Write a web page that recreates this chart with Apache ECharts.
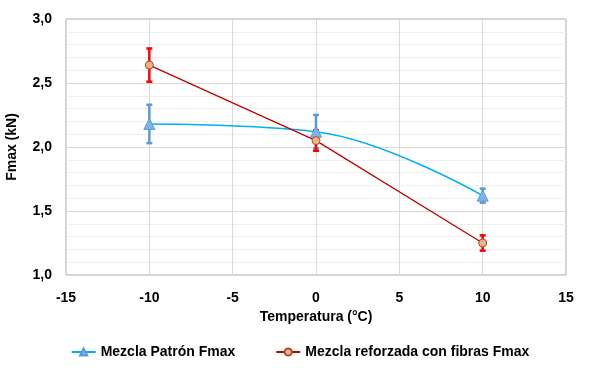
<!DOCTYPE html>
<html>
<head>
<meta charset="utf-8">
<script src="https://cdn.jsdelivr.net/npm/echarts@6/dist/echarts.min.js"></script>
<style>html,body{margin:0;padding:0;background:#fff}#c{width:600px;height:368px}</style>
</head>
<body>
<div id="c"></div>
<script>
var temps = [-10, 0, 10];
var patronValues = [2.18, 2.12, 1.62];
var patronErrors = [0.15, 0.13, 0.055];
var fibrasValues = [2.64, 2.05, 1.25];
var fibrasErrors = [0.13, 0.08, 0.06];
var seriesNames = ['Mezcla Patrón Fmax', 'Mezcla reforzada con fibras Fmax'];

var FONT = '"Liberation Sans", Arial, sans-serif';
var FS = 14;

function errData(vals, errs) {
  return temps.map(function (t, i) { return [t, vals[i] - errs[i], vals[i] + errs[i]]; });
}
function errSeries(vals, errs, color) {
  return {
    type: 'custom',
    z: 1,
    silent: true,
    data: errData(vals, errs),
    renderItem: function (params, api) {
      var x = api.value(0);
      var lo = api.coord([x, api.value(1)]);
      var hi = api.coord([x, api.value(2)]);
      var w = 3;
      var st = { stroke: color, lineWidth: 2.5 };
      return {
        type: 'group',
        children: [
          { type: 'line', shape: { x1: lo[0], y1: lo[1], x2: hi[0], y2: hi[1] }, style: st },
          { type: 'line', shape: { x1: lo[0] - w, y1: lo[1], x2: lo[0] + w, y2: lo[1] }, style: st },
          { type: 'line', shape: { x1: hi[0] - w, y1: hi[1], x2: hi[0] + w, y2: hi[1] }, style: st }
        ]
      };
    }
  };
}

var chart = echarts.init(document.getElementById('c'), null, { renderer: 'canvas' });
chart.setOption({
  animation: false,
  grid: { left: 66, right: 34, top: 19, bottom: 93, show: true, borderColor: '#a6a6a6', borderWidth: 1, containLabel: false, outerBoundsMode: 'none' },
  xAxis: {
    type: 'value', min: -15, max: 15, interval: 5,
    name: 'Temperatura (°C)', nameLocation: 'middle', nameGap: 35,
    nameTextStyle: { fontFamily: FONT, fontWeight: 'bold', fontSize: FS, color: '#000' },
    axisLine: { show: false }, axisTick: { show: false },
    axisLabel: { fontFamily: FONT, fontWeight: 'bold', fontSize: FS, color: '#000', margin: 16 },
    splitLine: { show: true, lineStyle: { color: '#d9d9d9', width: 1 } }
  },
  yAxis: {
    type: 'value', min: 1, max: 3, interval: 0.5,
    name: 'Fmax (kN)', nameLocation: 'middle', nameGap: 47, nameRotate: 90,
    nameTextStyle: { fontFamily: FONT, fontWeight: 'bold', fontSize: FS, color: '#000' },
    axisLine: { show: false }, axisTick: { show: false },
    axisLabel: {
      fontFamily: FONT, fontWeight: 'bold', fontSize: FS, color: '#000', margin: 14,
      formatter: function (v) { return v.toFixed(1).replace('.', ','); }
    },
    splitLine: { show: true, lineStyle: { color: '#d9d9d9', width: 1 } },
    minorTick: { show: false, splitNumber: 5 },
    minorSplitLine: { show: true, lineStyle: { color: '#f0f0f0', width: 1 } }
  },
  legend: {
    data: seriesNames, bottom: 4, left: 'center', itemGap: 40, itemWidth: 24, itemHeight: 9,
    textStyle: { fontFamily: FONT, fontWeight: 'bold', fontSize: FS, color: '#000' }
  },
  series: [
    errSeries(patronValues, patronErrors, '#5b9bd5'),
    errSeries(fibrasValues, fibrasErrors, '#ff0000'),
    {
      name: seriesNames[0], type: 'line', smooth: 0.4, z: 3,
      data: temps.map(function (t, i) { return [t, patronValues[i]]; }),
      symbol: 'triangle', symbolSize: 11,
      lineStyle: { color: '#00b0f0', width: 1.5 },
      itemStyle: { color: '#7fb3e6', borderColor: '#5b9bd5', borderWidth: 1 }
    },
    {
      name: seriesNames[1], type: 'line', z: 3,
      data: temps.map(function (t, i) { return [t, fibrasValues[i]]; }),
      symbol: 'circle', symbolSize: 8,
      lineStyle: { color: '#c00000', width: 1.25 },
      itemStyle: { color: '#f4b183', borderColor: '#a0522d', borderWidth: 1 }
    }
  ]
});
</script>
</body>
</html>
